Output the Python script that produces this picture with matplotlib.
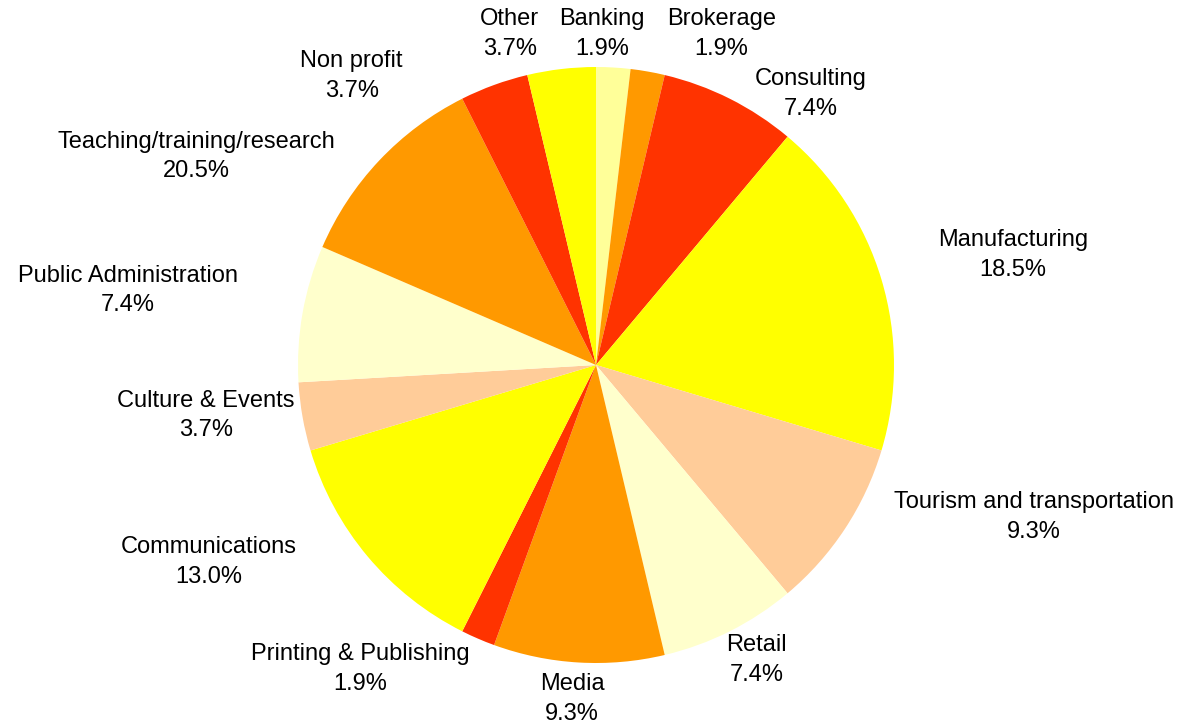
import numpy as np
import matplotlib.pyplot as plt

plt.rcParams['font.family'] = ['Liberation Sans', 'DejaVu Sans']

# respondents per sector (slice sizes) and the percent text printed on the chart
sectors = ['Banking', 'Brokerage', 'Consulting', 'Manufacturing',
           'Tourism and transportation', 'Retail', 'Media',
           'Printing & Publishing', 'Communications', 'Culture & Events',
           'Public Administration', 'Teaching/training/research',
           'Non profit', 'Other']
counts = [1, 1, 4, 10, 5, 4, 5, 1, 7, 2, 4, 6, 2, 2]
pct_text = ['1.9%', '1.9%', '7.4%', '18.5%', '9.3%', '7.4%', '9.3%',
            '1.9%', '13.0%', '3.7%', '7.4%', '20.5%', '3.7%', '3.7%']

colors = ['#FFFF99', '#FF9900', '#FF3300', '#FFFF00', '#FFCC99',
          '#FFFFCC', '#FF9900', '#FF3300', '#FFFF00', '#FFCC99',
          '#FFFFCC', '#FF9900', '#FF3300', '#FFFF00']

# label box centres, in pie radii from the centre
label_pos = [(0.02, 1.11), (0.42, 1.11), (0.72, 0.91), (1.40, 0.37),
             (1.47, -0.51), (0.54, -0.99), (-0.08, -1.12), (-0.79, -1.02),
             (-1.30, -0.66), (-1.31, -0.17), (-1.57, 0.25), (-1.34, 0.70),
             (-0.82, 0.97), (-0.29, 1.11)]

fig = plt.figure(figsize=(11.82, 7.26), dpi=100)
ax = fig.add_axes([0, 0, 1, 1])

wedges, _ = ax.pie(counts, colors=colors, startangle=90, counterclock=False,
                   wedgeprops=dict(linewidth=0))

for name, pct, (lx, ly) in zip(sectors, pct_text, label_pos):
    ax.text(lx, ly, f'{name}\n{pct}', ha='center', va='center',
            multialignment='center', linespacing=1.45, fontsize=17,
            color='black')

ax.set_aspect('auto')
ax.set_xlim(-596 / 298, (1182 - 596) / 298)
ax.set_ylim((365 - 726) / 298, 365 / 298)
ax.axis('off')

fig.savefig('out.png', dpi=100)
